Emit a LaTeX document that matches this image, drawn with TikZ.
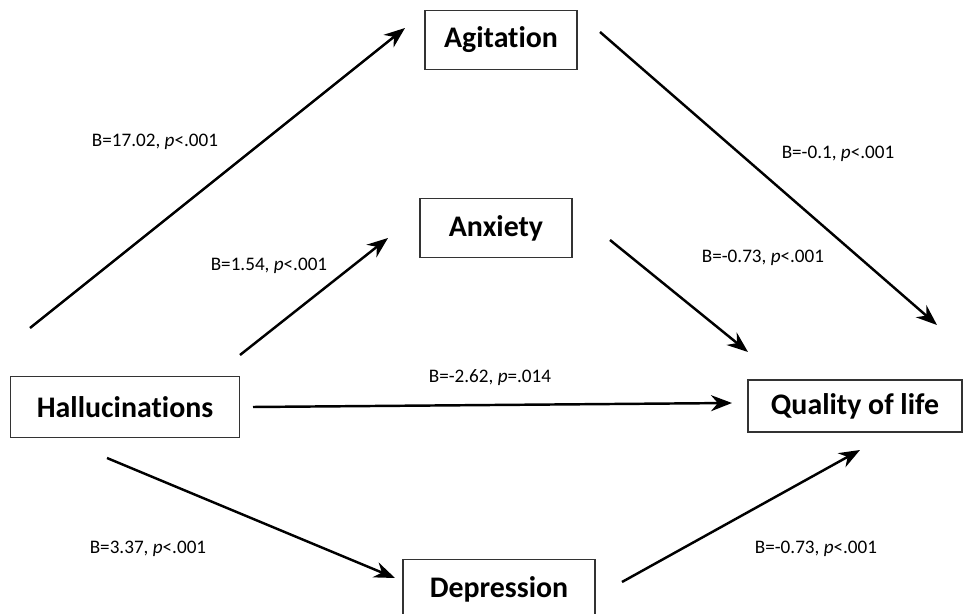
\documentclass[tikz,border=0pt]{standalone}
\usepackage{fontspec}
\setmainfont[Ligatures=NoCommon]{Carlito}
\usetikzlibrary{arrows.meta}

\tikzset{
  varbox/.style={draw=black!80, line width=0.9pt, fill=white, inner sep=0pt,
    minimum height=1.18cm, font=\fontsize{17}{20}\selectfont\bfseries},
  path/.style={line width=1.4pt, -{Stealth[length=4.2mm, width=3.2mm]}},
  coef/.style={font=\fontsize{10.9}{13}\selectfont, inner sep=0pt}
}

\begin{document}
\begin{tikzpicture}[x=0.02cm, y=-0.02cm]
  \useasboundingbox (0,0) rectangle (963,614);

  % Variable boxes
  \node[varbox, minimum width=3.04cm] (agit) at (501,40)  {Agitation};
  \node[varbox, minimum width=3.04cm] (anx)  at (496,228) {Anxiety};
  \node[varbox, minimum width=4.58cm, minimum height=1.22cm] (hall) at (125,407) {Hallucinations};
  \node[varbox, minimum width=4.28cm, minimum height=1.04cm] (qol)  at (855,406) {Quality of life};
  \node[varbox, minimum width=3.84cm] (dep)  at (499,589) {Depression};

  % Arrow ends
  \coordinate (h1) at (30,328);   \coordinate (a1) at (405,28);
  \coordinate (h2) at (240,355);  \coordinate (x1) at (388,238);
  \coordinate (h3) at (253,407);  \coordinate (q3) at (732,403);
  \coordinate (h4) at (107,458);  \coordinate (d1) at (395,578);
  \coordinate (a2) at (600,32);   \coordinate (q1) at (937,325);
  \coordinate (x2) at (610,240);  \coordinate (q2) at (748,352);
  \coordinate (d2) at (622,582);  \coordinate (q4) at (860,450);

  % Paths
  \draw[path] (h1) -- (a1);
  \draw[path] (h2) -- (x1);
  \draw[path] (h3) -- (q3);
  \draw[path] (h4) -- (d1);
  \draw[path] (a2) -- (q1);
  \draw[path] (x2) -- (q2);
  \draw[path] (d2) -- (q4);

  % Coefficients
  \node[coef] (c1) at (155,142) {B=17.02, \emph{p}<.001};
  \node[coef] (c2) at (269,266) {B=1.54, \emph{p}<.001};
  \node[coef] (c3) at (490,378) {B=-2.62, \emph{p}=.014};
  \node[coef] (c4) at (148,549) {B=3.37, \emph{p}<.001};
  \node[coef] (c5) at (838,154) {B=-0.1, \emph{p}<.001};
  \node[coef] (c6) at (763,258) {B=-0.73, \emph{p}<.001};
  \node[coef] (c7) at (816,549) {B=-0.73, \emph{p}<.001};
\end{tikzpicture}
\end{document}
